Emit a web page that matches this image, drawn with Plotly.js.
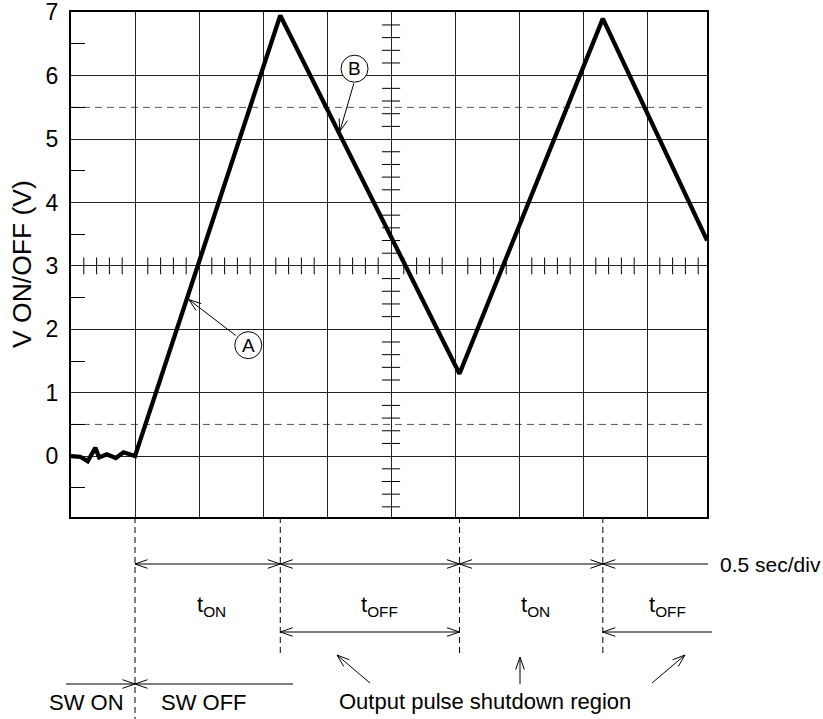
<!DOCTYPE html>
<html><head><meta charset="utf-8">
<script src="https://cdn.plot.ly/plotly-3.0.1.min.js"></script>
<style>html,body{margin:0;padding:0;background:#fff}</style>
</head><body><div id="chart" style="width:823px;height:719px"></div>
<script>
// ---- data (time in divisions of 0.5 s, voltage in V) ----
const timeDiv = [0, 0.145, 0.26, 0.38, 0.44, 0.56, 0.70, 0.82, 1.0, 3.27, 6.07, 8.31, 9.94];
const volts   = [0, -0.01, -0.08, 0.13, -0.02, 0.03, -0.03, 0.06, 0, 6.95, 1.30, 6.90, 3.40];
const yTickVals = [0, 1, 2, 3, 4, 5, 6, 7];
const yTickText = ['0', '1', '2', '3', '4', '5', '6', '7'];
const dashedLevels = [5.5, 0.5];
const eventTimes = [1.0, 3.27, 6.07, 8.31];          // SW off, peak, trough, peak
const phaseLabels = ['t<sub>ON</sub>', 't<sub>OFF</sub>', 't<sub>ON</sub>', 't<sub>OFF</sub>'];
const phaseLabelPx = [211, 379, 535, 667];
const markerLabels = ['A', 'B'];
const markerX = [2.77, 4.43];
const markerY = [1.75, 6.11];
const markerTipX = [1.84, 4.20];
const markerTipY = [2.47, 5.12];
const markerTail = [[47, 36], [14, -48]];   // pixel offset of arrow tail from tip (screen, y down)

// ---- geometry ----
const W = 823, H = 719, ML = 71, MR = 116, MT = 12, MB = 202;
const PW = W - ML - MR, PH = H - MT - MB;
const XMAX = PW / 64, YMIN = -0.96, YMAX = 7.004;
const PX = px => (px - ML) / PW;
const PY = py => (H - MB - py) / PH;
const TX = t => t / XMAX;                   // time (div) -> paper x
const FONT = 'Liberation Sans, Arial, Helvetica, sans-serif';
const HEAD_L = 12.5, HEAD_W = 4.3;

const waveform = {
  x: timeDiv, y: volts, type: 'scatter', mode: 'lines',
  line: { color: '#000', width: 4.3 }, hoverinfo: 'skip', showlegend: false
};

// graticule ticks on the centre lines
const hx = [], hy = [], vx = [], vy = [];
for (let k = 1; k < 50; k++) { if (k % 5) { hx.push(k * 0.2); hy.push(3); } }
for (let k = -4; k < 35; k++) { if (k % 5) { vx.push(5); vy.push(k * 0.2); } }
const hTicks = { x: hx, y: hy, type: 'scatter', mode: 'markers', hoverinfo: 'skip', showlegend: false,
  marker: { symbol: 'line-ns', size: 12, line: { color: '#000', width: 1 } } };
const vTicks = { x: vx, y: vy, type: 'scatter', mode: 'markers', hoverinfo: 'skip', showlegend: false,
  marker: { symbol: 'line-ew', size: 13, line: { color: '#000', width: 1 } } };

const shapes = [];
const LINE = { color: '#000', width: 1 };
dashedLevels.forEach(v => shapes.push({ type: 'line', xref: 'paper', x0: 0, x1: 1, yref: 'y', y0: v, y1: v,
  line: { color: '#555', width: 1, dash: '7px,5px' }, layer: 'below' }));
eventTimes.forEach((t, i) => shapes.push({ type: 'line', xref: 'paper', x0: TX(t), x1: TX(t), yref: 'paper',
  y0: 0, y1: i === 0 ? PY(719) : PY(656), line: { color: '#000', width: 1, dash: '6px,4px' } }));
markerLabels.forEach((m, i) => shapes.push({ type: 'circle', xref: 'x', yref: 'y',
  xsizemode: 'pixel', ysizemode: 'pixel', xanchor: markerX[i], yanchor: markerY[i],
  x0: -13.5, x1: 13.5, y0: -13.5, y1: 13.5, fillcolor: '#fff', line: LINE, layer: 'above' }));

// open "V" head at tip, pointing away from (ux,uy) which is the unit vector tip->tail (y up)
function headPath(ux, uy) {
  const nx = -uy, ny = ux;
  const a1 = [HEAD_L * ux + HEAD_W * nx, HEAD_L * uy + HEAD_W * ny];
  const a2 = [HEAD_L * ux - HEAD_W * nx, HEAD_L * uy - HEAD_W * ny];
  return `M ${a1[0].toFixed(2)} ${a1[1].toFixed(2)} L 0 0 L ${a2[0].toFixed(2)} ${a2[1].toFixed(2)}`;
}
function arrow(xref, yref, xa, ya, dx, dyDown) {   // line + head, anchored at tip
  const dy = -dyDown, len = Math.hypot(dx, dy);
  shapes.push({ type: 'path', xref: xref, yref: yref, xsizemode: 'pixel', ysizemode: 'pixel',
    xanchor: xa, yanchor: ya, path: `M 0 0 L ${dx} ${dy} ` + headPath(dx / len, dy / len), line: LINE, layer: 'above' });
}
function head(xa, ya, dir) {                        // dir = +1 tail to the right, -1 tail to the left
  shapes.push({ type: 'path', xref: 'paper', yref: 'paper', xsizemode: 'pixel', ysizemode: 'pixel',
    xanchor: xa, yanchor: ya, path: headPath(dir, 0), line: LINE });
}
function dim(xa, xb, ypx, headA, headB) {
  const y = PY(ypx);
  shapes.push({ type: 'line', xref: 'paper', yref: 'paper', x0: xa, x1: xb, y0: y, y1: y, line: LINE });
  if (headA) head(xa, y, xb > xa ? 1 : -1);
  if (headB) head(xb, y, xa > xb ? 1 : -1);
}
// row 1
for (let i = 0; i < 3; i++) dim(TX(eventTimes[i]), TX(eventTimes[i + 1]), 564, true, true);
dim(TX(eventTimes[3]), PX(708), 564, true, false);
// row 3
dim(TX(eventTimes[1]), TX(eventTimes[2]), 632, true, true);
dim(TX(eventTimes[3]), PX(712), 632, true, false);
// row 4
dim(PX(66), TX(eventTimes[0]), 684, false, true);
dim(TX(eventTimes[0]), PX(293), 684, true, false);

const ann = [];
// marker arrows A / B
markerLabels.forEach((m, i) => {
  arrow('x', 'y', markerTipX[i], markerTipY[i], markerTail[i][0], markerTail[i][1]);
  ann.push({ xref: 'x', yref: 'y', x: markerX[i], y: markerY[i], text: m, showarrow: false,
    xanchor: 'center', yanchor: 'middle', font: { family: FONT, size: 19, color: '#000' } });
});
// shutdown region arrows
[[337, 655, 33, 28], [520, 657, 0, 27], [685, 655, -33, 28]].forEach(a =>
  arrow('paper', 'paper', PX(a[0]), PY(a[1]), a[2], a[3]));

const txt = (s, xpx, ypx, size, xanchor) => ann.push({ xref: 'paper', yref: 'paper', x: PX(xpx), y: PY(ypx),
  text: s, showarrow: false, xanchor: xanchor || 'center', yanchor: 'middle',
  font: { family: FONT, size: size, color: '#000' } });
phaseLabels.forEach((s, i) => txt(s, phaseLabelPx[i], 606, 22));
txt('0.5 sec/div', 718, 564, 21, 'left');
txt('SW ON', 86, 703, 22);
txt('SW OFF', 204, 703, 22);
txt('Output pulse shutdown region', 485, 702, 22);
ann.push({ xref: 'paper', yref: 'paper', x: PX(22), y: PY(264), text: 'V ON/OFF (V)', textangle: -90,
  showarrow: false, xanchor: 'center', yanchor: 'middle', font: { family: FONT, size: 26.5, color: '#000' } });

const layout = {
  width: W, height: H, margin: { l: ML, r: MR, t: MT, b: MB, pad: 0 },
  paper_bgcolor: '#fff', plot_bgcolor: '#fff', showlegend: false,
  font: { family: FONT, color: '#000' },
  xaxis: { range: [0, XMAX], dtick: 1, tick0: 0, showgrid: true, gridcolor: '#222', gridwidth: 1,
    showticklabels: false, ticks: '', zeroline: false, showline: true, linecolor: '#000', linewidth: 2,
    mirror: true, fixedrange: true },
  yaxis: { range: [YMIN, YMAX], tickvals: yTickVals, ticktext: yTickText, showgrid: true, gridcolor: '#222',
    gridwidth: 1, ticks: '', zeroline: false, showline: true, linecolor: '#000', linewidth: 2, mirror: true,
    tickfont: { family: FONT, size: 23, color: '#000' }, ticklabelstandoff: 6, ticklabeloverflow: 'allow',
    fixedrange: true,
    minor: { tick0: 0.5, dtick: 1, ticks: 'inside', ticklen: 14, tickwidth: 1, tickcolor: '#000', showgrid: false } },
  shapes: shapes, annotations: ann
};
Plotly.newPlot('chart', [waveform, hTicks, vTicks], layout, { displayModeBar: false, staticPlot: true });
</script></body></html>
